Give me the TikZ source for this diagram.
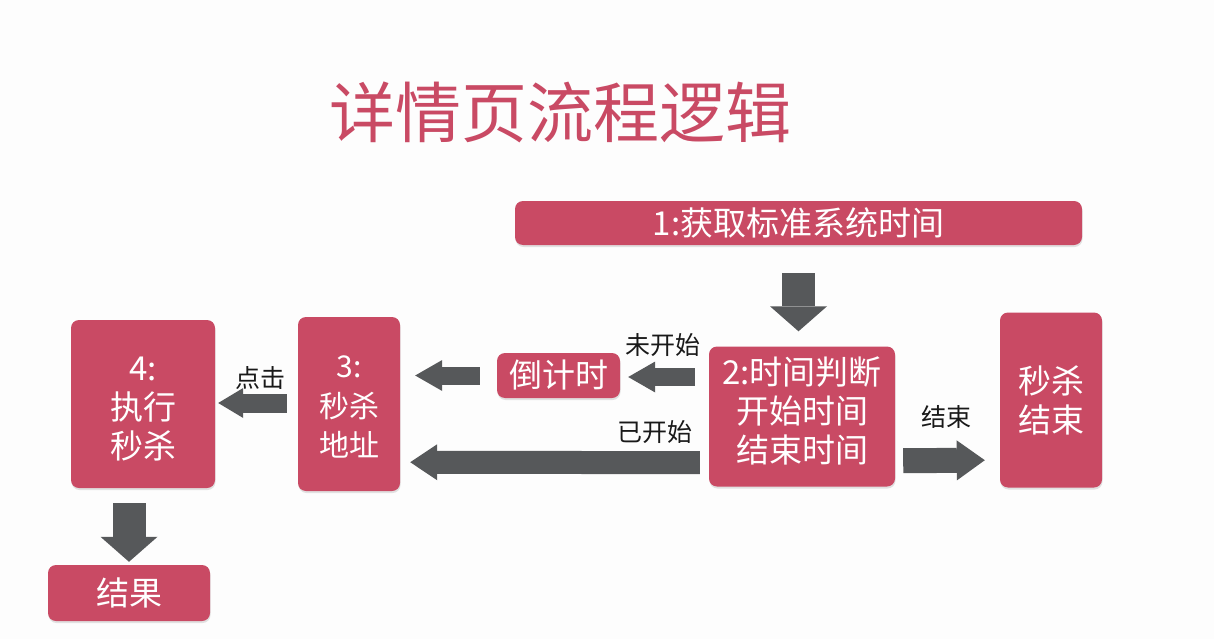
\documentclass[tikz,border=0pt]{standalone}
\usepackage{fontspec}
\setmainfont{Noto Sans CJK SC}
\usetikzlibrary{arrows.meta,calc,shadows}
\definecolor{boxred}{HTML}{C94A64}
\definecolor{argray}{HTML}{56585A}
\definecolor{bgcol}{HTML}{FDFDFD}
\newcommand{\boxfont}{\fontsize{33}{39}\selectfont}
\newcommand{\smallboxfont}{\fontsize{30}{39.5}\selectfont}
\newcommand{\lblfont}{\fontsize{25}{30}\selectfont}
\tikzset{
  box/.style={fill=boxred, rounded corners=8pt, text=white, align=center,
    inner sep=0pt, font=\boxfont,
    drop shadow={opacity=0.22, shadow xshift=0.5pt, shadow yshift=-2pt}},
  boxtext/.style={text=white, align=center, inner sep=0pt, font=\boxfont},
  lbl/.style={text=black!90, inner sep=0pt, font=\lblfont},
  blockarrow/.style n args={3}{draw=argray, line width=#1,
    -{Triangle[length=#2, width=#3, line width=0pt]}},
}
\begin{document}
\begin{tikzpicture}[x=1pt,y=-1pt]
\fill[bgcol] (0,0) rectangle (1214,639);
\useasboundingbox (0,0) rectangle (1214,639);

% title
\node[text=boxred, font=\fontsize{66}{72}\selectfont, inner sep=0pt] (title) at (560,112) {详情页流程逻辑};

% boxes
\node[box, minimum width=567pt, minimum height=44pt] (b1) at (798.5,223) {1:获取标准系统时间};
\node[box, minimum width=186pt, minimum height=140pt] (b2) at (802,416.5) {};
\node[boxtext] (b2t) at ($(b2)+(0,-6)$) {2:时间判断\\开始时间\\结束时间};
\node[box, minimum width=102pt, minimum height=175pt] (bend) at (1051,400) {秒杀\\结束};
\node[box, minimum width=123pt, minimum height=45pt] (bcd) at (558.5,375.5) {倒计时};
\node[box, minimum width=102pt, minimum height=174pt] (b3) at (349,404) {};
\node[boxtext, font=\smallboxfont] (b3t) at ($(b3)+(0,3)$) {3:\\秒杀\\地址};
\node[box, minimum width=144pt, minimum height=168pt] (b4) at (143,404) {};
\node[boxtext] (b4t) at ($(b4)+(0,5)$) {4:\\执行\\秒杀};
\node[box, minimum width=162pt, minimum height=56pt] (bres) at (129,593) {结果};

% labels
\node[lbl] (lwks) at (663,345) {未开始};
\node[lbl] (lyks) at (655,432) {已开始};
\node[lbl] (ljs) at (946,417) {结束};
\node[lbl] (ldj) at (260,378) {点击};

% connectors
\draw[blockarrow={33pt}{25pt}{57pt}] ($(b1.south)+(0,28)$) -- ($(b1.south |- b2.north)+(0,-15)$);
\draw[blockarrow={25pt}{28pt}{40pt}] ($(b2.south east)+(8,-26)$) -- ($(bend.south west)+(-15,-27.5)$);
\draw[blockarrow={18pt}{27pt}{31pt}] ($(b2.west |- bcd.east)+(-14,1.5)$) -- ($(bcd.east)+(8,1.5)$);
\draw[blockarrow={18pt}{27pt}{31pt}] ($(bcd.west)+(-17,0)$) -- ($(b3.east |- bcd.west)+(15,0)$);
\draw[blockarrow={23pt}{27pt}{36pt}] ($(b2.south west)+(-9,-24)$) -- ($(b3.south east)+(10,-29)$);
\draw[blockarrow={19pt}{25pt}{30pt}] ($(b3.west)+(-11,-1)$) -- ($(b4.east)+(3,-1)$);
\draw[blockarrow={33pt}{25pt}{57pt}] ($(bres.north |- b4.south)+(0,15)$) -- ($(bres.north)+(0,-3)$);
\end{tikzpicture}
\end{document}
